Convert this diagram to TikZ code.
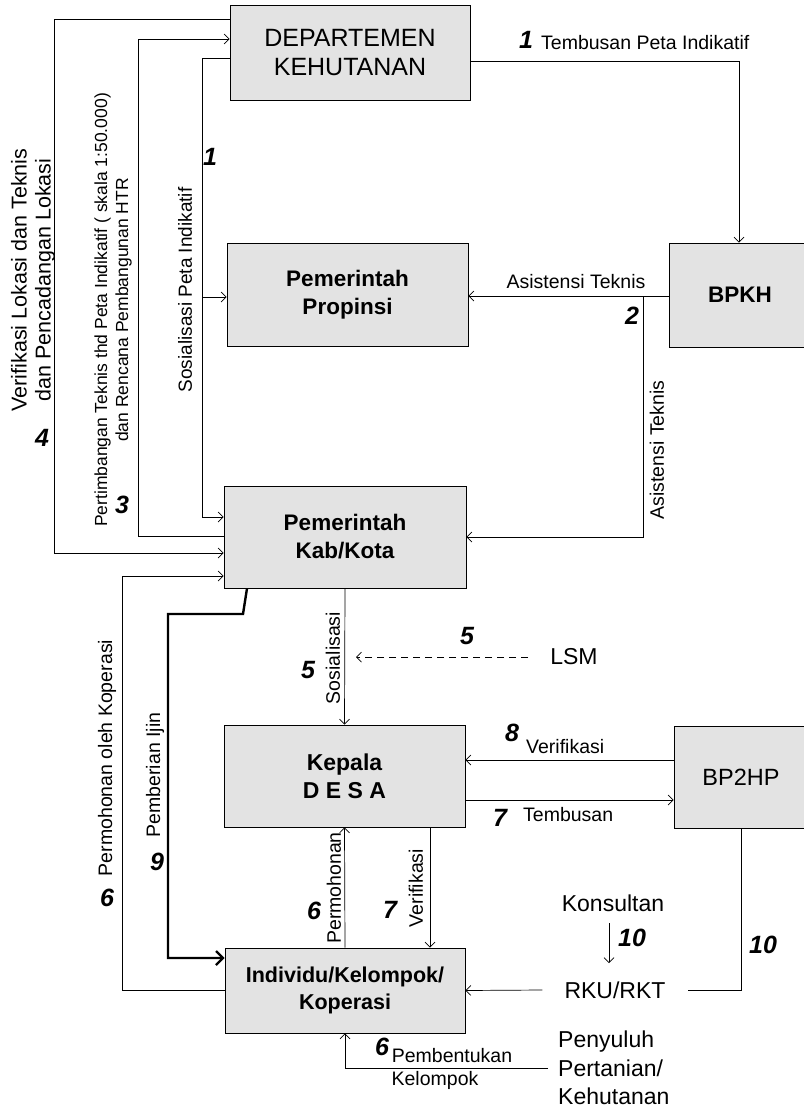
\documentclass[tikz,border=0pt]{standalone}
\usepackage{fontspec}
\setmainfont{Liberation Sans}
\usetikzlibrary{arrows.meta}
\begin{document}
\begin{tikzpicture}[x=1pt,y=-1pt,
  box/.style={draw, line width=0.9pt, fill=gray!22, align=center, inner sep=0pt},
  boxtxt/.style={font=\fontsize{22.5}{28}\selectfont\bfseries},
  conn/.style={line width=0.7pt},
  arr/.style={-{Straight Barb[length=5pt,width=10pt]}},
  thickarr/.style={line width=2.4pt,-{Straight Barb[length=7pt,width=14pt,line width=2.2pt]}},
  lbl/.style={font=\fontsize{19.5}{22}\selectfont, inner sep=1pt},
  big/.style={font=\fontsize{23}{28.5}\selectfont, inner sep=0pt},
  num/.style={font=\fontsize{25}{27}\selectfont\bfseries\itshape, inner sep=0pt}]
\useasboundingbox (0,0) rectangle (803,1108);
% boxes
\node[box, minimum width=240, minimum height=95, font=\fontsize{25}{29}\selectfont] (dept) at (350,52.5) {DEPARTEMEN\\KEHUTANAN};
\node[box, boxtxt, minimum width=241, minimum height=103] (prop) at (347.5,294.5) {Pemerintah\\Propinsi};
\node[box, boxtxt, minimum width=142, minimum height=104] (bpkh) at (740,295) {BPKH};
\node[box, boxtxt, minimum width=242, minimum height=102] (kab) at (345,537) {Pemerintah\\Kab/Kota};
\node[box, boxtxt, minimum width=241, minimum height=102, font=\fontsize{23}{28}\selectfont\bfseries] (desa) at (344.5,776) {Kepala\\D E S A};
\node[box, font=\fontsize{23.5}{28}\selectfont, minimum width=134, minimum height=102] (bp2hp) at (741,777) {BP2HP};
\node[box, boxtxt, font=\fontsize{21.5}{27}\selectfont\bfseries, minimum width=240, minimum height=85] (ind) at (345,990.5) {Individu/Kelompok/\\Koperasi};
% free texts
\node[big] (lsm) at (574,657) {LSM};
\node[big] (kons) at (613,903) {Konsultan};
\node[big] (rku) at (615,990) {RKU/RKT};
\node[big, anchor=west, align=left] (peny) at (558,1068) {Penyuluh\\Pertanian/\\Kehutanan};
% coordinates
\coordinate (c4a) at (54,19);
\coordinate (c4b) at (54,553);
\coordinate (c3a) at (138,39);
\coordinate (c3b) at (138,536);
\coordinate (c1a) at (202,58);
\coordinate (c1m) at (202,297);
\coordinate (c1b) at (202,517);
\coordinate (ctr) at (739,61);
\coordinate (c2) at (643,296);
\coordinate (c2b) at (643,537);
\coordinate (c6) at (122,576);
\coordinate (c9a) at (247,588);
\coordinate (c9b) at (243,614);
\coordinate (c9c) at (168,614);
\coordinate (c9d) at (168,958);
\coordinate (clsm) at (356,657);
\coordinate (k1) at (609,923);
\coordinate (k2) at (609,963);
% connectors
\draw[conn,arr] (dept.west |- c4a) -- (c4a) -- (c4b) -- (kab.west |- c4b);
\draw[conn,arr] (kab.west |- c3b) -- (c3b) -- (c3a) -- (dept.west |- c3a);
\draw[conn,arr] (dept.west |- c1a) -- (c1a) -- (c1b) -- (kab.west |- c1b);
\draw[conn,arr] (c1m) -- (prop.west |- c1m);
\draw[conn,arr] (dept.east |- ctr) -- (ctr) -- (bpkh.north -| ctr);
\draw[conn,arr] (bpkh.west |- c2) -- (prop.east |- c2);
\draw[conn,arr] (c2) -- (c2b) -- (kab.east |- c2b);
\draw[conn,arr] (kab.south) -- (desa.north);
\draw[conn,arr,dash pattern=on 7pt off 5pt] ([xshift=-22pt]lsm.west) -- (clsm);
\draw[conn,arr] (bp2hp.west |- 0,760) -- (desa.east |- 0,760);
\draw[conn,arr] (desa.east |- 0,800) -- (bp2hp.west |- 0,800);
\draw[conn,arr] (desa.south -| 430,0) -- (ind.north -| 430,0);
\draw[conn,arr] (ind.north) -- (desa.south);
\draw[conn,arr] (ind.west) -- (ind.west -| c6) -- (c6) -- (kab.west |- c6);
\draw[thickarr] (kab.south -| c9a) -- (c9b) -- (c9c) -- (c9d) -- (ind.west |- c9d);
\draw[conn] (bp2hp.south) |- ([xshift=22pt]rku.east);
\draw[conn,arr] ([xshift=-22pt]rku.west) -- (ind.east);
\draw[conn,arr] (k1) -- (k2);
\draw[conn,arr] ([xshift=-10pt]peny.west) -| (ind.south);
% labels
\node[font=\fontsize{21.5}{24}\selectfont, inner sep=1pt, rotate=90, align=center] (t4) at (33,280) {Verifikasi Lokasi dan Teknis\\dan Pencadangan Lokasi};
\node[font=\fontsize{17.5}{21}\selectfont, inner sep=1pt, rotate=90, align=center] (t3) at (113,310) {Pertimbangan Teknis thd Peta Indikatif ( skala 1:50.000)\\dan Rencana Pembangunan HTR};
\node[font=\fontsize{19}{22}\selectfont, inner sep=1pt, rotate=90] (t1) at (185,290) {Sosialisasi Peta Indikatif};
\node[lbl, anchor=base west] (t1b) at (540,50) {Tembusan Peta Indikatif};
\node[lbl, anchor=base] (t2) at (576,288) {Asistensi Teknis};
\node[lbl, rotate=90] (t2b) at (657,450) {Asistensi Teknis};
\node[lbl, rotate=90] (t5) at (333,658) {Sosialisasi};
\node[lbl, rotate=90] (t6) at (107,758) {Permohonan oleh Koperasi};
\node[lbl, rotate=90] (t9) at (155,775) {Pemberian Ijin};
\node[lbl, rotate=90] (t6b) at (334,888) {Permohonan};
\node[lbl, rotate=90] (t7b) at (416,888) {Verifikasi};
\node[lbl, anchor=west] (t8) at (525,747) {Verifikasi};
\node[lbl, anchor=west] (t7) at (522,815) {Tembusan};
\node[lbl] (t6c) at (452,1056) {Pembentukan};
\node[lbl] (t6d) at (435,1080) {Kelompok};
% numbers
\node[num] (n4) at (42,438) {4};
\node[num] (n3) at (122,505) {3};
\node[num] (n1) at (210,157) {1};
\node[num] (n1b) at (526,40) {1};
\node[num] (n2) at (632,316) {2};
\node[num] (n5a) at (467,636) {5};
\node[num] (n5b) at (308,670) {5};
\node[num] (n8) at (512,733) {8};
\node[num] (n7) at (500,818) {7};
\node[num] (n6a) at (107,898) {6};
\node[num] (n9) at (157,862) {9};
\node[num] (n6b) at (314,911) {6};
\node[num] (n7b) at (390,910) {7};
\node[num] (n10a) at (632,938) {10};
\node[num] (n10b) at (763,945) {10};
\node[num] (n6c) at (382,1047) {6};
\end{tikzpicture}
\end{document}
